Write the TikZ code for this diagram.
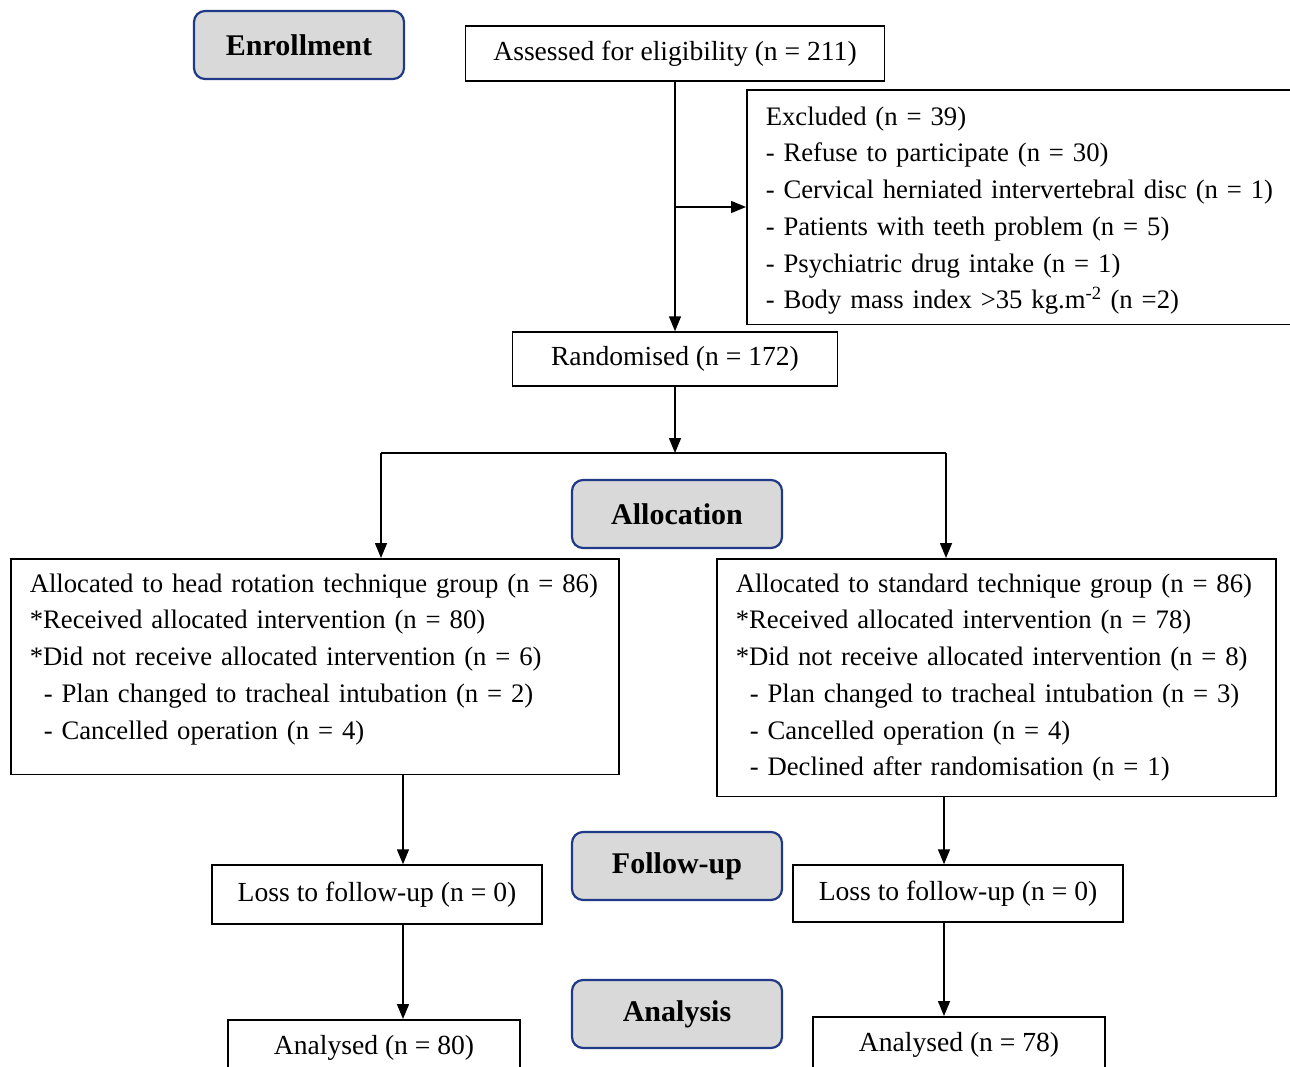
\documentclass[tikz,border=0pt]{standalone}
\usepackage{fontspec}
\setmainfont{Liberation Serif}
\usetikzlibrary{arrows.meta}
\definecolor{stageblue}{RGB}{32,58,135}
\definecolor{stagegray}{RGB}{217,217,217}
\begin{document}
\begin{tikzpicture}[x=1pt,y=-1pt,
    box/.style={draw,line width=1.5pt,inner sep=0pt,font=\fontsize{27.6}{33}\selectfont},
    listbox/.style={box,anchor=north west,align=left,inner xsep=19pt,inner ysep=15pt,
      font=\fontsize{26.7}{36.7}\selectfont},
    stage/.style={draw=stageblue,fill=stagegray,line width=2.2pt,rounded corners=11pt,
      minimum width=210pt,minimum height=68pt,font=\fontsize{30}{34}\selectfont\bfseries},
    arr/.style={line width=1.5pt,-{Triangle[length=15pt,width=12pt]}}]
  \useasboundingbox (0,0) rectangle (1290,1066);
  \clip (0,0) rectangle (1290,1066);

  \node[stage] (enrol) at (299,45) {Enrollment};
  \node[stage] (alloc) at (677,514) {Allocation};
  \node[stage] (follow) at (677,866) {Follow-up};
  \node[stage] (anal) at (677,1014) {Analysis};

  \node[box,minimum width=419pt,minimum height=55pt] (assess) at (675,53.5)
    {Assessed for eligibility (n = 211)};
  \node[listbox,text width=522pt,inner ysep=17pt,text depth=182pt] (excl) at (746,89)
    {Excluded (n = 39)\\
     - Refuse to participate (n = 30)\\
     - Cervical herniated intervertebral disc (n = 1)\\
     - Patients with teeth problem (n = 5)\\
     - Psychiatric drug intake (n = 1)\\
     - Body mass index >35 kg.m\textsuperscript{-2} (n =2)};
  \node[box,minimum width=325pt,minimum height=54pt] (rand) at (675,359)
    {Randomised (n = 172)};

  \node[listbox,text width=570pt,text depth=167pt] (allocL) at (10,558)
    {Allocated to head rotation technique group (n = 86)\\
     {}*Received allocated intervention (n = 80)\\
     {}*Did not receive allocated intervention (n = 6)\\
     \hspace*{14pt}- Plan changed to tracheal intubation (n = 2)\\
     \hspace*{14pt}- Cancelled operation (n = 4)};
  \node[listbox,text width=521pt] (allocR) at (716,558)
    {Allocated to standard technique group (n = 86)\\
     {}*Received allocated intervention (n = 78)\\
     {}*Did not receive allocated intervention (n = 8)\\
     \hspace*{14pt}- Plan changed to tracheal intubation (n = 3)\\
     \hspace*{14pt}- Cancelled operation (n = 4)\\
     \hspace*{14pt}- Declined after randomisation (n = 1)};

  \node[box,minimum width=330pt,minimum height=59pt] (lossL) at (377,894.5)
    {Loss to follow-up (n = 0)};
  \node[box,minimum width=330pt,minimum height=57pt] (lossR) at (958,893.5)
    {Loss to follow-up (n = 0)};
  \node[box,anchor=north,minimum width=292pt,minimum height=56pt] (anaL) at (374,1019)
    {Analysed (n = 80)};
  \node[box,anchor=north,minimum width=292pt,minimum height=56pt] (anaR) at (959,1016)
    {Analysed (n = 78)};

  \coordinate (exbr) at (675,207);
  \coordinate (split) at (675,453);
  \coordinate (splitL) at (381,453);
  \coordinate (splitR) at (946,453);
  \coordinate (tapL) at (403,0);
  \coordinate (tapR) at (944,0);

  \begin{scope}[arr]
    \draw (assess) -- (rand);
    \draw (exbr) -- (excl.west |- exbr);
    \draw (rand) -- (split);
    \draw (splitL) -- (splitL |- allocL.north);
    \draw (splitR) -- (splitR |- allocR.north);
    \draw (allocL.south -| tapL) -- (lossL.north -| tapL);
    \draw (allocR.south -| tapR) -- (lossR.north -| tapR);
    \draw (lossL.south -| tapL) -- (anaL.north -| tapL);
    \draw (lossR.south -| tapR) -- (anaR.north -| tapR);
  \end{scope}
  \draw[line width=1.5pt] (splitL) -- (splitR);
\end{tikzpicture}
\end{document}
